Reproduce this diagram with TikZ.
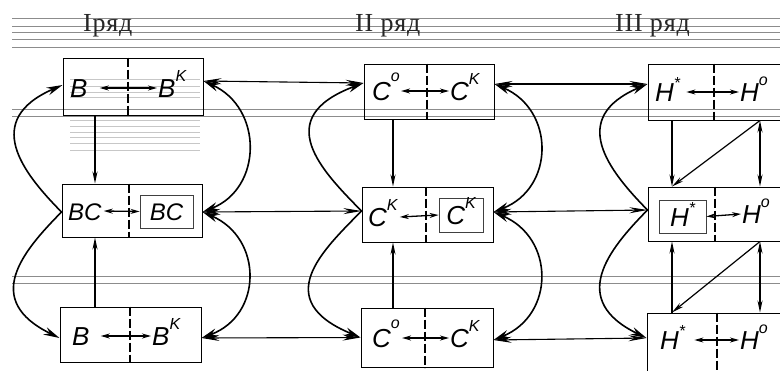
\documentclass[tikz,border=0pt]{standalone}
\usepackage{fontspec}
\setmainfont{Liberation Sans}
\newfontfamily\headfont[LetterSpace=3]{Liberation Serif}
\usetikzlibrary{arrows.meta,calc}
% small raised index after a letter: optional raise, then the index text
\newcommand\raised[2][0.6em]{\raisebox{#1}{\fontsize{16}{16}\selectfont #2}}

\tikzset{
  rule/.style={draw=black!45, line width=0.8pt},
  faint/.style={draw=black!22, line width=0.6pt},
  box/.style={draw, line width=1pt, inner sep=0pt},
  divider/.style={line width=1.5pt, dash pattern=on 9pt off 3pt},
  lbl/.style={font=\itshape\fontsize{26}{26}\selectfont, inner sep=0pt,
              text height=19pt, text depth=0pt, anchor=west},
  inbox/.style={draw=black!75, line width=0.8pt, inner sep=0pt,
                font=\itshape\fontsize{24}{24}\selectfont, text height=18pt, text depth=0pt},
  inlink/.style={{Stealth[length=9pt,width=5pt]}-{Stealth[length=9pt,width=5pt]}, line width=1.3pt},
  link/.style={{Stealth[length=18pt,width=6pt]}-{Stealth[length=18pt,width=6pt]}, line width=1.1pt},
  bendone/.style={-{Stealth[length=16pt,width=8pt]}, line width=1.6pt},
  bendtwo/.style={{Stealth[length=16pt,width=8pt]}-{Stealth[length=16pt,width=8pt]}, line width=1.6pt},
  drop/.style={-{Stealth[length=12pt,width=5pt]}, line width=1.2pt},
  dropboth/.style={{Stealth[length=12pt,width=5pt]}-{Stealth[length=12pt,width=5pt]}, line width=1.2pt},
  head/.style={font=\headfont\fontsize{26}{26}\selectfont, text=black!85, inner sep=0pt, anchor=base west},
}

\begin{document}
\begin{tikzpicture}[x=1pt,y=-1pt]
\useasboundingbox (0,0) rectangle (780,370);
\fill[white] (0,0) rectangle (780,370);
\begin{scope}
\clip (0,0) rectangle (780,370);

% ruled paper lines
\foreach \yy in {18,26,32,39,47,109,116,276,283}
  \draw[rule] (12,\yy) -- (780,\yy);
\foreach \yy in {79,86,92,97,120,126,132,137,143,150}
  \draw[faint] (70,\yy) -- (200,\yy);

% row headings
\node[head] (h1) at (83,31) {Iряд};
\node[head] (h2) at (355,31) {II ряд};
\node[head] (h3) at (615,31) {III ряд};

% boxes
\node[box, minimum width=140pt, minimum height=57pt] (t1) at (133,86.5) {};
\node[box, minimum width=140pt, minimum height=53pt] (m1) at (132,210.5) {};
\node[box, minimum width=141pt, minimum height=55pt] (b1) at (130.5,334.5) {};
\node[box, minimum width=130pt, minimum height=55pt] (t2) at (429,91.5) {};
\node[box, minimum width=131pt, minimum height=55pt] (m2) at (427.5,214.5) {};
\node[box, minimum width=132pt, minimum height=59pt] (b2) at (427,337.5) {};
\node[box, minimum width=182pt, minimum height=56pt] (t3) at (739,92) {};
\node[box, minimum width=182pt, minimum height=54pt] (m3) at (739,214) {};
\node[box, minimum width=183pt, minimum height=60pt] (b3) at (738.5,343) {};

% dashed dividers
\draw[divider] ([xshift=-5pt]t1.north) -- ([xshift=-5pt]t1.south);
\draw[divider] ([xshift=-3pt]m1.north) -- ([xshift=-3pt]m1.south);
\draw[divider] ([xshift=-0.5pt]b1.north) -- ([xshift=-0.5pt]b1.south);
\draw[divider] ([xshift=-2pt]t2.north) -- ([xshift=-2pt]t2.south);
\draw[divider] ([xshift=-1.5pt]m2.north) -- ([xshift=-1.5pt]m2.south);
\draw[divider] ([xshift=-2pt]b2.north) -- ([xshift=-2pt]b2.south);
\draw[divider] ([xshift=-25pt]t3.north) -- ([xshift=-25pt]t3.south);
\draw[divider] ([xshift=-24pt]m3.north) -- ([xshift=-24pt]m3.south);
\draw[divider] ([xshift=-21.5pt]b3.north) -- ([xshift=-21.5pt]b3.south);

% labels, column I
\node[lbl] (t1a) at (70,88) {B};
\node[lbl] (t1b) at (158,88) {B\raised{K}};
\node[lbl, font=\itshape\fontsize{24}{24}\selectfont] (m1a) at (68,211) {BC};
\node[inbox, minimum width=53pt, minimum height=33pt] (m1b) at (166.5,211.5) {BC};
\node[lbl] (b1a) at (72,336) {B};
\node[lbl] (b1b) at (152,336) {B\raised{K}};

% labels, column II
\node[lbl] (t2a) at (372,91) {C\raised[0.75em]{o}};
\node[lbl] (t2b) at (450,91) {C\raised{K}};
\node[lbl] (m2a) at (368,217) {C\raised{K}};
\node[inbox, minimum width=44pt, minimum height=34pt,
      font=\itshape\fontsize{26}{26}\selectfont, text height=19pt] (m2b) at (461,215) {C\raised{K}};
\node[lbl] (b2a) at (372,338) {C\raised[0.75em]{o}};
\node[lbl] (b2b) at (450,338) {C\raised{K}};

% labels, column III
\node[lbl] (t3a) at (655,92) {H\raised[0.5em]{*}};
\node[lbl] (t3b) at (740,92) {H\raised[0.62em]{o}};
\node[inbox, minimum width=47pt, minimum height=33pt,
      font=\itshape\fontsize{26}{26}\selectfont, text height=19pt] (m3a) at (682.5,216.5) {H\raised[0.5em]{*}};
\node[lbl] (m3b) at (742,214) {H\raised[0.62em]{o}};
\node[lbl] (b3a) at (660,340) {H\raised[0.5em]{*}};
\node[lbl] (b3b) at (740,340) {H\raised[0.62em]{o}};

% arrows inside the boxes
\draw[inlink] ([xshift=12pt]t1a.east) -- ([xshift=-1pt]t1b.west);
\draw[inlink] ([xshift=2pt]m1a.east) -- (m1b.west);
\draw[inlink] ([xshift=11pt]b1a.east) -- ([xshift=-1pt]b1b.west);
\draw[inlink] ([xshift=1pt]t2a.east) -- ([xshift=-1pt]t2b.west);
\draw[inlink] ([xshift=2pt]m2a.east) -- (m2b.west);
\draw[inlink] ([xshift=2pt]b2a.east) -- ([xshift=-1pt]b2b.west);
\draw[inlink] ([xshift=6pt]t3a.east) -- ([xshift=-1pt]t3b.west);
\draw[inlink] (m3a.east) -- ([xshift=-1pt]m3b.west);
\draw[inlink] ([xshift=9pt]b3a.east) -- ([xshift=-1pt]b3b.west);

% ports on the box sides
\coordinate (t1w) at ([yshift=1.5pt]t1.west);
\coordinate (t1e) at ([yshift=5.5pt]t1.east);
\coordinate (m1w) at ([yshift=-1.5pt]m1.west);
\coordinate (m1e) at ([yshift=-1.5pt]m1.east);
\coordinate (b1w) at ([yshift=-3.5pt]b1.west);
\coordinate (b1e) at ([yshift=-3.5pt]b1.east);
\coordinate (t2w) at ([yshift=8.5pt]t2.west);
\coordinate (t2e) at ([yshift=7.5pt]t2.east);
\coordinate (m2w) at ([yshift=3.5pt]m2.west);
\coordinate (m2e) at ([yshift=2.5pt]m2.east);
\coordinate (b2w) at (b2.west);
\coordinate (b2e) at ([yshift=-2.5pt]b2.east);
\coordinate (t3w) at ([yshift=8pt]t3.west);
\coordinate (m3w) at ([yshift=4pt]m3.west);
\coordinate (b3w) at ([yshift=5pt]b3.west);

% links between the columns
\draw[link] (t1e) -- (t2w);
\draw[link] (m1e) -- (m2w);
\draw[link] (b1e) -- (b2w);
\draw[link] (t2e) -- (t3w);
\draw[link] (m2e) -- (m3w);
\draw[link] (b2e) -- (b3w);

% curved links around each column
\draw[bendone] (m1w) .. controls (22,172) and (-18,120) .. (t1w);
\draw[bendone] (m1w) .. controls (22,252) and (-18,300) .. (b1w);
\draw[bendtwo] (t1e) .. controls (263,108) and (263,188) .. (m1e);
\draw[bendtwo] (m1e) .. controls (263,238) and (263,315) .. (b1e);
\draw[bendone] (m2w) .. controls (322,171) and (270,118) .. (t2w);
\draw[bendone] (m2w) .. controls (322,251) and (270,300) .. (b2w);
\draw[bendtwo] (t2e) .. controls (555,110) and (555,188) .. (m2e);
\draw[bendtwo] (m2e) .. controls (555,238) and (555,315) .. (b2e);
\draw[bendone] (m3w) .. controls (608,170) and (568,118) .. (t3w);
\draw[bendone] (m3w) .. controls (608,250) and (568,300) .. (b3w);

% vertical links inside the columns
\coordinate (v1) at (95,0);
\coordinate (v2) at (393,0);
\coordinate (v3l) at (672,0);
\coordinate (v3r) at (760,0);
\draw[drop] (t1.south -| v1) -- (m1.north -| v1);
\draw[drop] (b1.north -| v1) -- (m1.south -| v1);
\draw[drop] (t2.south -| v2) -- (m2.north -| v2);
\draw[drop] (b2.north -| v2) -- (m2.south -| v2);
\draw[drop] (t3.south -| v3l) -- (m3.north -| v3l);
\draw[dropboth] (t3.south -| v3r) -- (m3.north -| v3r);
\draw[drop] (t3.south -| v3r) -- (m3.north -| v3l);
\draw[drop] (b3.north -| v3l) -- (m3.south -| v3l);
\draw[dropboth] (m3.south -| v3r) -- (b3.north -| v3r);
\draw[drop] (m3.south -| v3r) -- (b3.north -| v3l);
\end{scope}
\end{tikzpicture}
\end{document}
